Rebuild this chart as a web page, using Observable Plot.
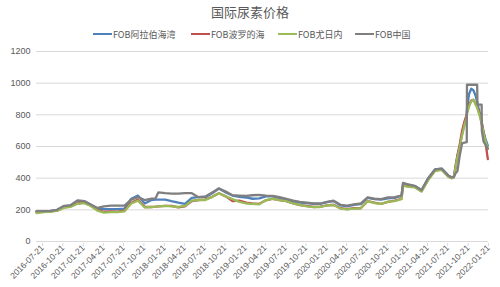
<!DOCTYPE html>
<html><head><meta charset="utf-8">
<script src="https://cdn.jsdelivr.net/npm/d3@7"></script>
<script src="https://cdn.jsdelivr.net/npm/@observablehq/plot@0.6"></script>
<style>
body{margin:0;background:#fff;font-family:"Noto Sans CJK SC",sans-serif;}
#wrap{position:relative;width:500px;height:287px;}
#title{position:absolute;left:0;top:0;width:500px;height:24px;line-height:24px;text-align:center;font-size:13px;color:#595959;}
#legend{position:absolute;left:0;top:24px;width:500px;height:20px;}
.item{position:absolute;top:0;height:20px;display:flex;align-items:center;font-size:9px;color:#595959;white-space:nowrap;}
.swatch{width:19px;height:2.5px;margin-right:1px;}
#chart{position:absolute;left:0;top:44px;}
</style></head>
<body><div id="wrap"><div id="title"></div><div id="legend"></div><div id="chart"></div></div>
<script>
const titleText = "国际尿素价格";
const seriesNames = ["FOB阿拉伯海湾", "FOB波罗的海", "FOB尤日内", "FOB中国"];
const seriesColors = ["#4F81BD", "#C0504D", "#9BBB59", "#7F7F7F"];
const legendX = [93, 191, 278, 355];

const dates = [
"2016-07-21","2016-08-21","2016-09-21","2016-10-21","2016-11-21","2016-12-21",
"2017-01-21","2017-02-21","2017-03-21","2017-04-21","2017-05-21","2017-06-21",
"2017-07-21","2017-08-21","2017-09-21","2017-10-21","2017-11-21","2017-12-21",
"2018-01-08","2018-01-21","2018-02-21","2018-03-21","2018-04-21","2018-05-21","2018-06-21",
"2018-07-21","2018-08-21","2018-09-21","2018-10-21","2018-11-21","2018-12-21",
"2019-01-21","2019-02-21","2019-03-21","2019-04-21","2019-05-21","2019-06-21",
"2019-07-21","2019-08-21","2019-09-21","2019-10-21","2019-11-21","2019-12-21",
"2020-01-21","2020-02-21","2020-03-21","2020-04-21","2020-05-21","2020-06-21",
"2020-07-21","2020-08-21","2020-09-21","2020-10-21","2020-11-21","2020-12-21",
"2021-01-21","2021-01-28","2021-02-21","2021-03-21","2021-04-21","2021-05-21","2021-06-21",
"2021-07-21","2021-08-21","2021-09-04","2021-09-14","2021-09-21","2021-09-30",
"2021-10-10","2021-10-21","2021-11-01","2021-11-11","2021-11-12","2021-11-21",
"2021-12-01","2021-12-11","2021-12-21","2021-12-28","2021-12-29","2022-01-07",
"2022-01-17","2022-01-18","2022-01-26","2022-02-04","2022-02-14"];

const arabGulf = [190,190,191,198,222,228,258,255,232,208,205,205,205,208,270,290,240,262,
265,265,265,255,245,238,275,280,280,305,335,310,290,282,278,270,272,285,285,275,265,252,245,242,238,
238,248,255,228,222,232,236,275,268,265,272,275,290,368,358,350,322,398,455,460,415,405,410,470,540,
600,680,745,800,830,930,965,955,920,880,875,820,750,740,690,645,605];

const baltic = [185,188,190,195,215,222,240,245,228,200,188,190,188,195,245,265,218,218,
220,222,225,225,215,222,255,262,265,282,305,285,255,258,245,240,238,260,270,262,255,240,230,225,218,
220,228,232,210,205,210,210,255,245,238,250,258,270,355,350,345,318,390,450,455,410,400,405,470,545,
610,700,760,800,820,860,890,895,870,850,845,810,760,750,690,620,520];

const yuzhny = [180,185,188,193,212,218,238,242,226,195,182,185,185,190,240,258,215,218,
220,222,225,222,218,225,258,262,262,282,305,285,268,250,240,238,235,262,270,262,255,240,232,222,218,
218,228,230,208,203,208,210,255,243,238,252,255,268,352,345,342,315,388,445,452,408,400,405,462,530,
590,670,735,785,805,850,885,895,865,845,840,800,745,738,680,630,590];

const china = [192,192,193,200,225,228,258,255,235,212,222,226,226,226,265,280,262,270,
272,310,305,302,302,305,305,280,285,310,335,315,292,290,288,292,295,290,288,280,270,258,250,245,240,
240,250,258,232,226,235,240,278,270,268,278,280,290,370,360,352,325,400,455,460,415,405,408,430,445,
540,620,625,627,990,990,990,990,990,990,865,865,865,700,630,610,585];

const yTicks = [0,200,400,600,800,1000,1200];
const xTickDates = ["2016-07-21","2016-10-21","2017-01-21","2017-04-21","2017-07-21","2017-10-21",
"2018-01-21","2018-04-21","2018-07-21","2018-10-21","2019-01-21","2019-04-21","2019-07-21","2019-10-21",
"2020-01-21","2020-04-21","2020-07-21","2020-10-21","2021-01-21","2021-04-21","2021-07-21","2021-10-21","2022-01-21"];

document.getElementById("title").textContent = titleText;
const leg = document.getElementById("legend");
seriesNames.forEach((n,i)=>{
  const it = document.createElement("div"); it.className="item"; it.style.left = legendX[i]+"px";
  const sw = document.createElement("div"); sw.className="swatch"; sw.style.background = seriesColors[i];
  const tx = document.createElement("span"); tx.textContent = n;
  it.appendChild(sw); it.appendChild(tx); leg.appendChild(it);
});

const allValues = [arabGulf, baltic, yuzhny, china];
const rows = [];
seriesNames.forEach((s,j)=>{
  dates.forEach((d,i)=> rows.push({date:new Date(d+"T00:00:00Z"), value:allValues[j][i], series:s}));
});
const xTicks = xTickDates.map(d=>new Date(d+"T00:00:00Z"));
const fmt = d3.utcFormat("%Y-%m-%d");

const chart = Plot.plot({
  width:500, height:243,
  marginTop:7, marginBottom:46, marginLeft:36, marginRight:12,
  style:{fontFamily:"'Liberation Sans', Arial, sans-serif", fontSize:"9px", color:"#595959", background:"#fff", overflow:"visible"},
  x:{type:"utc", domain:[new Date("2016-07-21T00:00:00Z"), new Date("2022-02-17T00:00:00Z")]},
  y:{domain:[0,1200]},
  color:{domain:seriesNames, range:seriesColors},
  marks:[
    Plot.gridY(yTicks,{stroke:"#d9d9d9", strokeOpacity:1, strokeWidth:1}),
    Plot.axisY(yTicks,{tickSize:0, tickPadding:6, label:null, fill:"#595959", tickFormat:d=>String(d)}),
    Plot.axisX(xTicks,{tickSize:3, tickPadding:0, tickRotate:-45, tickFormat:fmt, label:null, stroke:"#d9d9d9", fill:"#595959", fontSize:8.5, dx:6, dy:2}),
    Plot.line(rows,{x:"date", y:"value", z:"series", stroke:"series", strokeWidth:2.3, strokeLinejoin:"round"})
  ]
});
document.getElementById("chart").appendChild(chart);
</script></body></html>
